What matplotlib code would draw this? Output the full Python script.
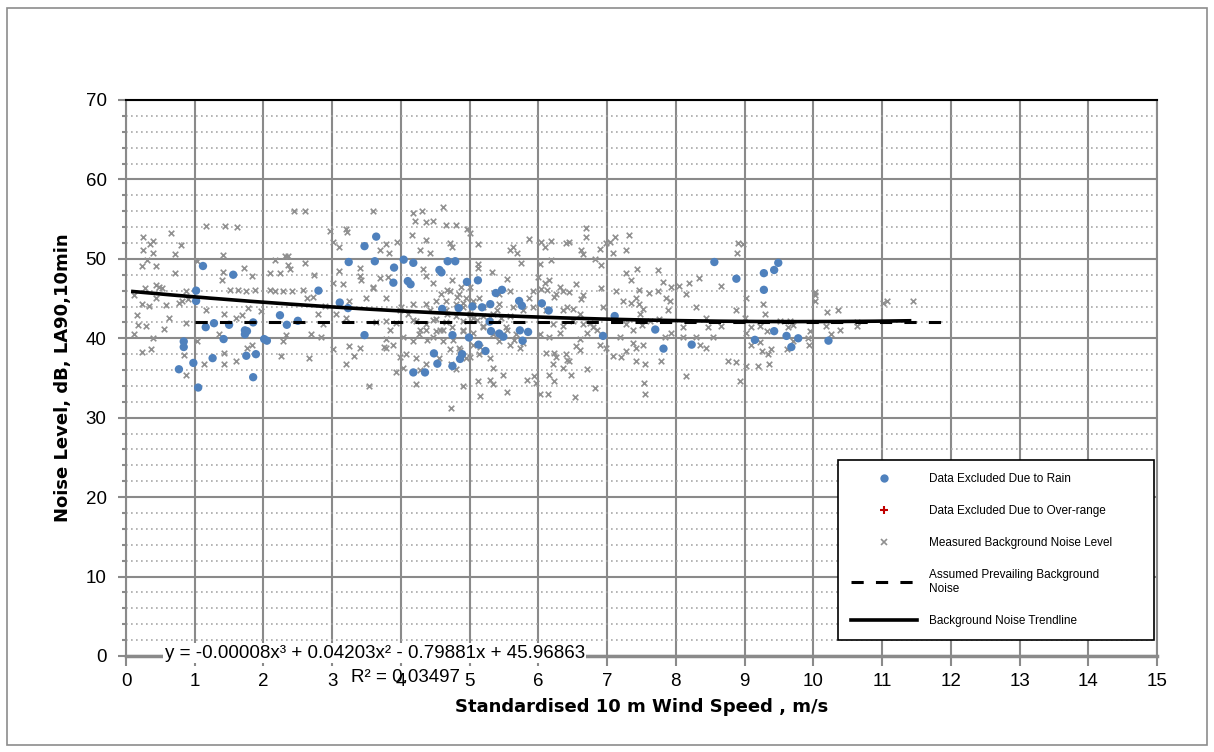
import numpy as np
from matplotlib import pyplot as plt
from matplotlib.lines import Line2D
from matplotlib.patches import Rectangle

# Data Excluded Due to Rain (wind speed m/s, noise dB)
rain_x = [1.12, 1.56, 1.02, 1.02, 2.80, 2.24, 2.34, 2.50, 1.16, 1.28, 1.50, 1.85,
          1.73, 1.76, 1.73, 1.42, 2.01, 2.05, 0.84, 0.84, 0.98, 0.77, 1.26, 1.75,
          1.89, 1.85, 1.05,
          3.11, 3.23, 3.24, 3.47, 3.64, 3.62, 3.90, 3.89, 4.10, 4.14, 4.04, 4.18,
          4.56, 4.59, 4.68, 4.79, 4.96, 5.12, 5.38, 5.47, 5.72, 5.76, 4.60, 4.84,
          5.04, 5.18, 5.30, 5.29, 5.31, 5.43, 5.49, 5.73, 5.77, 3.47, 4.75, 4.99,
          5.13, 5.23, 4.48, 4.53, 4.18, 4.35, 4.75, 4.86, 4.89,
          5.85, 6.05, 6.15, 6.94, 7.11, 7.70, 7.82, 8.23, 8.56,
          8.88, 9.28, 9.28, 9.43, 9.49, 9.43, 9.15, 9.61, 9.78, 9.68, 10.22]
rain_y = [49.1, 48.0, 46.0, 44.7, 46.0, 42.9, 41.7, 42.2, 41.4, 41.9, 41.7, 42.0,
          41.0, 40.9, 40.5, 39.9, 39.9, 39.7, 39.6, 38.9, 36.9, 36.1, 37.5, 37.8,
          38.0, 35.1, 33.8,
          44.5, 43.8, 49.6, 51.6, 52.8, 49.7, 48.9, 47.0, 47.2, 46.8, 49.9, 49.5,
          48.6, 48.3, 49.7, 49.7, 47.1, 47.3, 45.7, 46.1, 44.7, 44.1, 43.7, 43.8,
          44.0, 43.9, 44.3, 42.1, 40.9, 40.6, 40.2, 41.0, 39.7, 40.4, 40.4, 40.1,
          39.2, 38.4, 38.1, 36.8, 35.7, 35.7, 36.5, 37.4, 38.0,
          40.8, 44.4, 43.5, 40.3, 42.8, 41.1, 38.7, 39.2, 49.6,
          47.5, 48.2, 46.1, 48.6, 49.5, 40.9, 39.8, 40.3, 40.0, 38.9, 39.7]

# Measured Background Noise Level
bg_x = [0.25, 0.39, 0.35, 0.25, 0.39, 0.66, 0.80, 0.72, 0.30, 0.23, 0.43, 0.71,
        0.44, 0.48, 0.53, 0.27, 0.12, 0.23, 0.33, 0.58, 0.44, 0.77, 0.82, 0.87,
        0.90, 0.16, 0.17, 0.29, 0.63, 0.56, 0.12, 0.39, 0.23, 0.36, 0.88, 0.84,
        0.87, 1.03, 1.16, 1.44, 1.62, 1.41, 1.41, 1.39, 1.71, 1.83, 1.52, 1.63,
        1.74, 1.88, 1.17, 1.43, 1.60, 1.69, 1.77, 1.97, 1.36, 1.76, 1.84, 1.43,
        1.43, 1.60, 1.14, 1.04, 2.17, 2.32, 2.36, 2.44, 2.60, 2.35, 2.39, 2.60,
        2.10, 2.24, 2.74, 2.09, 2.17, 2.29, 2.41, 2.57, 2.64, 2.72, 2.80, 2.69,
        2.84, 2.33, 2.28, 2.25, 2.66, 2.86, 2.90,
        2.97, 3.01, 3.20, 3.21, 3.59, 3.10, 3.10, 3.01, 3.15, 3.40, 3.40, 3.42,
        3.60, 3.69, 3.81, 3.69, 3.78, 3.83, 3.95, 4.18, 4.31, 4.20, 4.37, 4.46,
        4.61, 4.66, 4.80, 4.16, 4.36, 4.28, 4.42, 4.71, 4.75, 4.96, 5.00, 5.12,
        5.58, 5.63, 5.69, 5.12, 5.12, 5.33, 5.74, 4.32, 4.37, 4.46, 4.75, 4.88,
        5.55, 4.85, 4.95, 4.59, 4.71, 4.51, 4.66, 4.37, 4.42, 4.17, 4.00, 3.78,
        3.59, 3.49, 3.25, 3.06, 3.20, 3.64, 3.78, 3.93, 4.10, 4.22, 4.37, 4.51,
        4.66, 4.80, 4.90, 5.05, 5.19, 5.34, 5.46, 5.58, 5.63, 5.77, 4.61, 4.75,
        4.90, 5.05, 5.19, 5.34, 5.53, 5.68, 4.46, 4.61, 4.27, 4.17, 4.03, 3.88,
        3.78, 3.78, 3.40, 3.25, 3.32, 3.01, 3.20, 3.54, 3.93, 4.22, 4.37, 4.56,
        4.71, 4.85, 4.95, 5.05, 5.14, 5.29, 5.43, 5.58, 5.73, 5.34, 5.48, 4.90,
        5.12, 5.34, 5.15, 4.73, 5.55, 4.80, 4.73, 4.08, 4.22, 4.03, 4.51, 4.37,
        4.90, 5.05, 5.19, 5.43, 4.66, 4.80, 5.00, 5.14, 5.43, 5.58,
        4.67, 4.81, 4.91, 5.01, 5.10, 5.20, 4.91, 4.76, 4.57, 4.47, 4.67, 5.30,
        5.40, 5.54, 5.64, 5.78, 5.15, 5.01, 4.86, 4.38, 4.28, 4.18, 3.99, 3.84,
        3.75, 3.99, 4.28, 6.12, 6.22, 6.41, 6.61, 6.75, 6.85, 7.19, 7.38, 7.48,
        7.34, 6.22, 6.41, 6.61, 5.83, 5.30,
        5.87, 6.04, 6.09, 6.19, 6.40, 6.45, 6.62, 6.65, 6.69, 6.69, 6.99, 7.04,
        7.09, 7.12, 7.28, 7.32, 6.89, 6.83, 6.91, 6.19, 6.02, 5.99, 6.16, 6.09,
        6.04, 6.31, 6.36, 6.26, 6.45, 6.55, 6.62, 6.65, 5.92, 5.87, 6.91, 6.94,
        7.28, 7.35, 7.43, 7.74, 7.46, 7.61, 7.74, 7.82, 7.93, 8.05, 8.19, 8.33,
        7.13, 7.23, 7.42, 7.47, 7.52, 7.86, 7.91, 7.88, 8.15, 8.30, 8.44, 8.66,
        5.92, 6.11, 6.36, 6.50, 6.21, 6.36, 6.50, 6.65, 6.79, 6.02, 6.16, 6.31,
        6.60, 6.70, 6.89, 6.11, 6.26, 6.40, 6.45, 6.21, 6.36, 6.48, 6.70, 6.55,
        5.94, 6.16, 6.23, 5.97, 6.02, 6.14, 6.53, 6.82, 6.99, 7.08, 7.20, 7.28,
        7.42, 7.52, 7.42, 7.55, 7.28, 7.37, 7.50, 7.62, 7.76, 7.84, 7.93, 7.54,
        7.55, 7.79, 8.15, 8.35, 8.44, 8.47, 8.54, 8.66, 8.30, 8.10, 8.10,
        8.90, 8.97, 8.89, 9.02, 8.88, 9.27, 9.29, 9.00, 9.10, 9.22, 9.02, 9.32,
        9.10, 9.22, 9.26, 9.34, 9.39, 9.36, 9.19, 9.02, 8.88, 8.76, 8.93, 9.51,
        9.66, 9.63, 9.70, 9.61, 9.70, 9.92, 9.94, 9.95, 10.02, 10.02, 10.03, 10.19,
        10.20, 10.36, 10.26, 10.39, 10.63, 10.64, 11.02, 11.07, 11.45]
bg_y = [52.7, 52.2, 51.9, 51.1, 50.8, 53.2, 51.7, 50.6, 49.9, 49.1, 49.1, 48.2,
        46.7, 46.5, 46.3, 46.3, 45.5, 44.3, 44.1, 44.2, 45.1, 44.4, 44.7, 45.9,
        44.9, 42.9, 41.7, 41.5, 42.6, 41.2, 40.5, 40.0, 38.3, 38.7, 41.9, 37.9,
        35.4, 49.7, 54.1, 54.1, 54.0, 50.5, 48.4, 47.3, 48.9, 47.8, 46.1, 46.1,
        45.9, 46.1, 43.5, 43.1, 42.6, 42.9, 43.8, 43.4, 40.6, 38.8, 39.2, 38.1,
        36.8, 37.1, 36.7, 39.7, 49.9, 50.3, 50.3, 56.0, 56.0, 49.2, 48.7, 49.5,
        48.2, 48.2, 48.0, 46.1, 46.0, 45.9, 46.0, 46.1, 45.1, 45.2, 43.0, 40.5,
        40.1, 40.4, 39.7, 37.8, 37.5, 41.8, 44.1,
        53.5, 52.1, 53.8, 53.4, 56.0, 51.5, 48.5, 46.9, 46.8, 48.9, 47.9, 47.3,
        46.3, 47.6, 47.7, 51.1, 51.9, 50.8, 52.1, 55.8, 56.0, 54.8, 54.6, 54.8,
        56.5, 54.3, 54.2, 53.0, 52.4, 51.1, 50.7, 52.0, 51.5, 53.7, 53.2, 51.9,
        51.1, 51.5, 50.8, 49.4, 48.9, 48.3, 49.5, 48.7, 47.9, 47.0, 47.3, 46.4,
        47.5, 45.6, 45.1, 45.6, 46.0, 44.7, 44.7, 44.3, 43.5, 44.3, 44.0, 45.1,
        46.4, 45.1, 44.7, 43.0, 42.6, 42.0, 42.2, 41.9, 43.0, 42.2, 41.8, 42.4,
        42.0, 42.8, 42.2, 42.6, 42.8, 43.0, 42.5, 42.8, 43.9, 43.5, 41.1, 41.4,
        40.9, 40.7, 41.4, 40.5, 41.4, 40.5, 40.1, 39.7, 40.5, 39.7, 40.1, 39.2,
        39.9, 38.8, 38.8, 39.0, 37.8, 38.6, 36.7, 34.0, 35.7, 34.2, 36.7, 37.5,
        38.6, 38.8, 37.5, 39.2, 38.0, 37.5, 39.7, 39.2, 38.8, 36.3, 35.4, 34.0,
        34.6, 34.2, 32.7, 31.2, 33.3, 36.1, 36.7, 38.0, 37.5, 36.3, 40.9, 41.1,
        43.9, 44.7, 43.9, 44.3, 43.5, 44.3, 46.4, 45.1, 45.6, 46.0,
        46.1, 45.2, 44.4, 43.1, 42.3, 41.5, 41.0, 39.8, 41.0, 42.3, 43.1, 42.7,
        43.6, 41.0, 39.8, 39.4, 38.9, 37.7, 38.5, 39.8, 41.0, 42.3, 43.6, 41.0,
        38.9, 37.7, 36.0, 46.1, 45.2, 44.0, 43.1, 41.9, 41.0, 40.2, 39.4, 43.1,
        44.4, 38.1, 37.3, 38.5, 34.7, 34.7,
        52.5, 52.1, 51.5, 52.2, 52.0, 52.1, 51.1, 50.6, 53.9, 52.7, 52.0, 52.1,
        50.7, 52.7, 51.1, 53.0, 51.3, 50.0, 49.2, 49.9, 49.4, 47.7, 47.3, 47.0,
        46.2, 46.4, 46.0, 45.6, 45.8, 46.8, 44.9, 45.4, 46.0, 45.1, 46.3, 43.9,
        48.2, 47.3, 48.7, 48.6, 46.1, 45.7, 46.0, 47.1, 46.5, 46.6, 47.0, 47.6,
        46.0, 44.7, 45.1, 44.3, 43.7, 45.1, 44.7, 43.5, 45.6, 44.0, 42.6, 46.6,
        43.9, 43.5, 43.5, 43.7, 41.8, 41.6, 42.2, 41.8, 41.4, 40.5, 40.1, 40.7,
        39.9, 40.7, 39.2, 38.2, 37.6, 38.0, 37.1, 36.7, 36.3, 35.4, 36.1, 39.0,
        35.2, 35.4, 34.6, 34.4, 33.0, 33.0, 32.6, 33.7, 38.8, 37.8, 37.6, 38.4,
        38.8, 39.2, 37.1, 36.7, 41.8, 41.1, 41.7, 42.2, 42.4, 40.1, 40.7, 34.4,
        33.0, 37.1, 35.2, 39.2, 38.8, 41.4, 40.1, 41.6, 40.1, 40.1, 41.4,
        52.0, 51.9, 50.8, 45.1, 43.5, 44.3, 43.0, 42.5, 41.4, 41.6, 40.7, 40.9,
        39.2, 39.5, 38.4, 38.0, 38.6, 36.8, 36.5, 36.5, 37.0, 37.2, 34.6, 42.2,
        42.2, 41.4, 41.7, 38.6, 39.7, 40.0, 39.2, 40.9, 45.8, 44.7, 45.4, 41.6,
        43.3, 43.5, 40.5, 41.1, 41.6, 42.0, 44.4, 44.7, 44.7]

# Assumed Prevailing Background Noise (constant level)
prev_x = [1, 12]
prev_y = [42.1, 42.1]

# Trendline coefficients as printed on the chart
coef = [-0.00008, 0.04203, -0.79881, 45.96863]
trend_x = np.linspace(0.1, 11.4, 200)
trend_y = np.polyval(coef, trend_x)

x_ticks = list(range(0, 16))
y_ticks = list(range(0, 71, 10))

plt.rcParams['font.family'] = ['Liberation Sans', 'DejaVu Sans']

fig = plt.figure(figsize=(12.14, 7.52), dpi=100)
ax = fig.add_axes([126 / 1214, 1 - 656 / 752, 1031 / 1214, 556 / 752])

# outer chart frame
fig.patches.append(Rectangle((7 / 1214, 1 - 745 / 752), 1200 / 1214, 737 / 752,
                             transform=fig.transFigure, fill=False,
                             edgecolor='#8c8c8c', lw=1.2))

grid_c = '#8a8a8a'
ax.set_xlim(0, 15)
ax.set_ylim(0, 70)
ax.set_xticks(x_ticks)
ax.set_yticks(y_ticks)
ax.set_yticks(np.arange(0, 71, 2), minor=True)
ax.grid(True, which='major', axis='both', color=grid_c, lw=1.5)
ax.grid(True, which='minor', axis='y', color='#a8a8a8', lw=1.2, ls=(0, (1, 2)))
ax.set_axisbelow(True)

for s in ['left', 'right']:
    ax.spines[s].set_color(grid_c)
    ax.spines[s].set_linewidth(1.5)
ax.spines['bottom'].set_color(grid_c)
ax.spines['bottom'].set_linewidth(2.5)
ax.spines['top'].set_color('black')
ax.spines['top'].set_linewidth(1.5)

ax.tick_params(axis='both', which='both', color=grid_c, width=1.5, labelsize=13.5)
ax.tick_params(axis='x', length=7, pad=5)
ax.tick_params(axis='y', which='major', length=6, pad=8)
ax.tick_params(axis='y', which='minor', length=3)

ax.scatter(bg_x, bg_y, marker='x', s=16, color='#909090', linewidths=1.2, zorder=3)
ax.scatter(rain_x, rain_y, marker='o', s=36, color='#4f81bd', edgecolors='none', zorder=4)
ax.plot(prev_x, prev_y, color='black', lw=2.2, ls=(0, (4, 4)), zorder=5)
ax.plot(trend_x, trend_y, color='black', lw=2.6, zorder=6)

ax.text(3.62, 0.35, 'y = -0.00008x³ + 0.04203x² - 0.79881x + 45.96863',
        ha='center', va='center', fontsize=13.5, zorder=7,
        bbox=dict(facecolor='white', edgecolor='none', pad=1))
ax.text(4.06, -2.7, 'R² = 0.03497', ha='center', va='center', fontsize=13.5,
        clip_on=False, zorder=7)

ax.set_xlabel('Standardised 10 m Wind Speed , m/s', fontsize=13, fontweight='bold',
              family='DejaVu Sans', labelpad=6)
ax.set_ylabel('Noise Level, dB, LA90,10min', fontsize=13, fontweight='bold',
              family='DejaVu Sans', labelpad=10)

handles = [
    Line2D([], [], ls='none', marker='o', ms=6, color='#4f81bd', mec='none'),
    Line2D([], [], ls='none', marker='+', ms=6, color='#c00000', mew=1.5),
    Line2D([], [], ls='none', marker='x', ms=4, color='#909090', mew=1.2),
    Line2D([], [], color='black', lw=2.2, ls=(0, (4, 4))),
    Line2D([], [], color='black', lw=2.6),
]
labels = ['Data Excluded Due to Rain', 'Data Excluded Due to Over-range',
          'Measured Background Noise Level',
          'Assumed Prevailing Background\nNoise', 'Background Noise Trendline']
leg = ax.legend(handles, labels, loc='lower left',
                bbox_to_anchor=(838 / 1214, 1 - 640 / 752, 316 / 1214, 178 / 752),
                bbox_transform=fig.transFigure, mode='expand', borderaxespad=0,
                fontsize=8.5, handlelength=5.6, handletextpad=1.0,
                labelspacing=1.7, borderpad=1.1,
                frameon=True, fancybox=False, edgecolor='black', framealpha=1)
leg.get_frame().set_linewidth(1.2)
leg.set_zorder(10)

fig.savefig('out.png', dpi=100)
